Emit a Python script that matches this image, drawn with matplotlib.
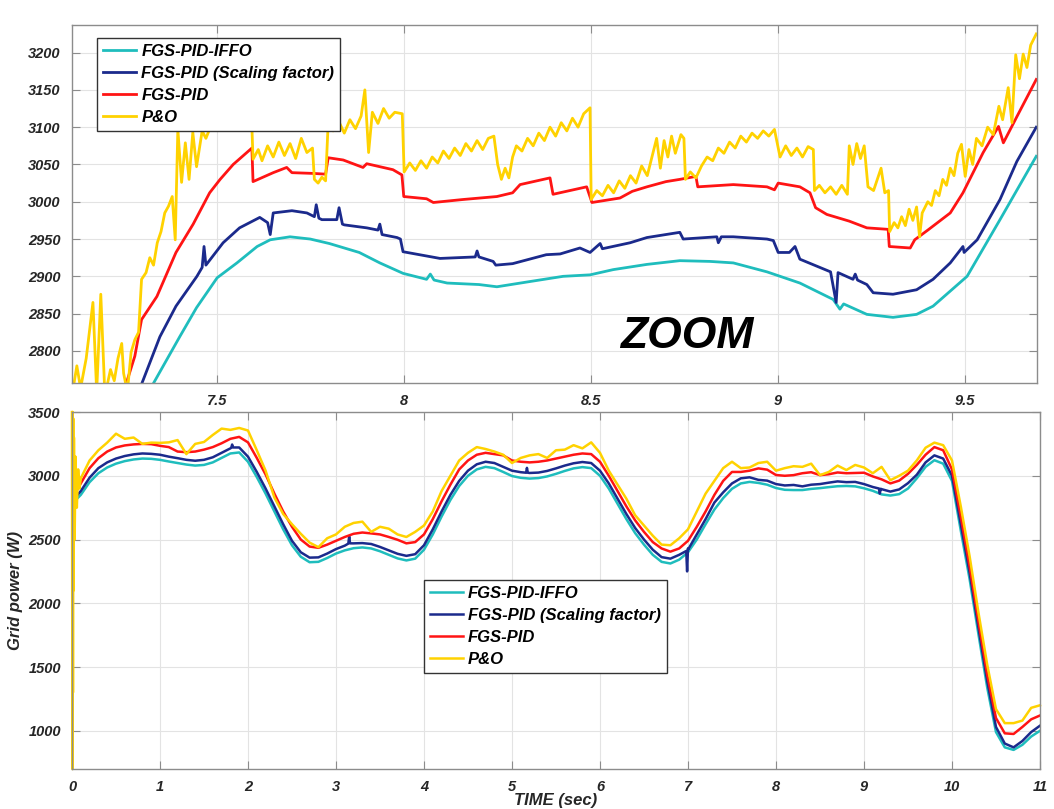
import matplotlib
matplotlib.use('Agg')
import matplotlib.pyplot as plt
import numpy as np

plt.rcParams['font.family'] = ['Liberation Sans', 'DejaVu Sans']
plt.rcParams['font.weight'] = 'bold'
plt.rcParams['font.style'] = 'italic'
plt.rcParams['axes.labelweight'] = 'bold'

labels = ['FGS-PID-IFFO', 'FGS-PID (Scaling factor)', 'FGS-PID', 'P&O']
colors = ['#1fbdbd', '#1b2a8c', '#ff1414', '#ffd200']

#---------------------------------------------------------full run, 0..11 s, every 0.1 s
t_full = np.round(np.arange(111) * 0.1, 1)

iffo = [2780, 2850, 2950, 3020, 3065, 3095, 3115, 3128, 3135, 3133,
        3125, 3112, 3100, 3088, 3080, 3085, 3105, 3140, 3175, 3183,
        3110, 2990, 2860, 2720, 2580, 2455, 2365, 2322, 2325, 2355,
        2390, 2415, 2432, 2438, 2430, 2408, 2380, 2352, 2336, 2350,
        2420, 2540, 2680, 2810, 2920, 3000, 3050, 3070, 3060, 3030,
        2998, 2984, 2978, 2982, 2995, 3015, 3038, 3058, 3068, 3060,
        3000, 2900, 2780, 2660, 2550, 2460, 2380, 2325, 2312, 2342,
        2400, 2500, 2620, 2735, 2825, 2898, 2940, 2952, 2944, 2930,
        2904, 2890, 2888, 2888, 2897, 2903, 2911, 2918, 2920, 2917,
        2902, 2882, 2854, 2845, 2856, 2900, 2980, 3070, 3122, 3095,
        2960, 2570, 2190, 1760, 1340, 990, 870, 850, 890, 955, 1000]

scaling = [2800, 2880, 2985, 3060, 3105, 3135, 3155, 3168, 3175, 3172,
           3165, 3150, 3138, 3125, 3118, 3125, 3145, 3180, 3215, 3222,
           3150, 3030, 2900, 2760, 2620, 2490, 2400, 2358, 2360, 2390,
           2425, 2452, 2470, 2472, 2465, 2442, 2415, 2388, 2372, 2385,
           2455, 2580, 2720, 2850, 2960, 3040, 3090, 3110, 3100, 3070,
           3040, 3028, 3022, 3025, 3038, 3058, 3080, 3098, 3108, 3100,
           3040, 2940, 2820, 2700, 2590, 2500, 2420, 2362, 2350, 2380,
           2430, 2540, 2660, 2790, 2870, 2940, 2980, 2988, 2968, 2962,
           2935, 2924, 2928, 2917, 2930, 2935, 2946, 2956, 2950, 2952,
           2935, 2912, 2895, 2876, 2893, 2942, 3008, 3105, 3160, 3135,
           3000, 2620, 2240, 1810, 1390, 1030, 900, 870, 920, 990, 1040]
# short spikes of the scaling-factor controller
t_scaling_spk = [1.81, 1.82, 1.83, 3.14, 3.15, 3.16, 5.16, 5.17, 5.18, 6.98, 6.99, 7.0, 9.17, 9.18, 9.19]
scaling_spk = [3220, 3245, 3222, 2468, 2525, 2470, 3024, 3062, 3024, 2410, 2250, 2420, 2900, 2860, 2898]

pid = [2820, 2940, 3060, 3138, 3190, 3222, 3238, 3246, 3250, 3248,
       3235, 3225, 3190, 3185, 3190, 3205, 3225, 3255, 3290, 3305,
       3262, 3140, 3010, 2860, 2720, 2600, 2500, 2445, 2435, 2460,
       2490, 2520, 2545, 2555, 2548, 2540, 2520, 2498, 2470, 2480,
       2540, 2660, 2800, 2930, 3050, 3120, 3165, 3180, 3170, 3160,
       3120, 3110, 3105, 3110, 3120, 3135, 3150, 3165, 3175, 3170,
       3110, 3000, 2880, 2760, 2650, 2560, 2480, 2430, 2405, 2430,
       2490, 2600, 2720, 2850, 2960, 3030, 3030, 3040, 3058, 3048,
       3006, 3000, 3005, 3020, 3028, 3005, 3012, 3026, 3020, 3022,
       3024, 2995, 2972, 2940, 2962, 3015, 3085, 3165, 3225, 3200,
       3050, 2680, 2290, 1860, 1440, 1100, 980, 975, 1030, 1090, 1120]

t_pno_start = [0.0, 0.005, 0.008, 0.011, 0.014, 0.018, 0.022, 0.03, 0.04, 0.055, 0.07, 0.085]
pno_start = [3500, 700, 3500, 1300, 3450, 2100, 3300, 2500, 3150, 2750, 3050, 2900]
pno = [2980, 3120, 3200, 3260, 3330, 3290, 3300, 3250, 3260,
       3258, 3262, 3280, 3170, 3250, 3265, 3320, 3370, 3360, 3375,
       3355, 3200, 3040, 2830, 2700, 2620, 2545, 2476, 2440, 2510,
       2540, 2600, 2630, 2640, 2560, 2600, 2585, 2540, 2520, 2560,
       2610, 2720, 2880, 3000, 3120, 3180, 3225, 3210, 3190, 3165,
       3100, 3140, 3160, 3170, 3140, 3200, 3205, 3240, 3215, 3262,
       3180, 3040, 2930, 2820, 2690, 2610, 2530, 2460, 2455, 2510,
       2580, 2720, 2860, 2960, 3060, 3110, 3060, 3065, 3100, 3110,
       3040, 3060, 3075, 3070, 3095, 3005, 3030, 3080, 3045, 3085,
       3065, 3020, 3070, 2965, 3000, 3040, 3120, 3220, 3260, 3240,
       3120, 2760, 2370, 1930, 1520, 1170, 1060, 1060, 1080, 1180, 1200]

#---------------------------------------------------------zoomed window 7.11..9.69 s
t_iffo_z = [7.30, 7.355, 7.40, 7.445, 7.50, 7.553, 7.607, 7.642, 7.695, 7.749, 7.80, 7.88,
            7.935, 7.997, 8.06, 8.07, 8.08, 8.115, 8.20, 8.248, 8.336, 8.425, 8.497, 8.559,
            8.649, 8.737, 8.818, 8.88, 8.97, 9.058, 9.147, 9.165, 9.175, 9.237, 9.307,
            9.37, 9.414, 9.505, 9.593, 9.69]
iffo_z = [2730, 2779, 2819, 2858, 2898, 2918, 2940, 2949, 2953, 2950, 2944, 2932,
          2918, 2904, 2896, 2903, 2895, 2891, 2889, 2886, 2893, 2900, 2902, 2909,
          2916, 2921, 2920, 2918, 2906, 2891, 2869, 2856, 2863, 2849, 2845,
          2849, 2860, 2900, 2976, 3061]

t_scaling_z = [7.29, 7.347, 7.39, 7.446, 7.46, 7.465, 7.47, 7.516, 7.56, 7.614, 7.635, 7.642,
               7.65, 7.70, 7.74, 7.76, 7.765, 7.772, 7.78, 7.82, 7.826, 7.835, 7.84, 7.90, 7.93,
               7.935, 7.941, 7.981, 7.99, 7.997, 8.096, 8.19, 8.195, 8.20, 8.238, 8.245,
               8.29, 8.38, 8.417, 8.47, 8.497, 8.524, 8.53, 8.604, 8.649, 8.737, 8.746,
               8.836, 8.84, 8.848, 8.88, 8.97, 8.987, 9.0, 9.03, 9.045, 9.058, 9.14, 9.155,
               9.16, 9.20, 9.206, 9.212, 9.237, 9.254, 9.307, 9.37, 9.414, 9.46, 9.494,
               9.497, 9.532, 9.593, 9.638, 9.69]
scaling_z = [2745, 2819, 2860, 2900, 2912, 2940, 2915, 2945, 2965, 2979, 2972, 2956,
             2985, 2988, 2985, 2980, 2996, 2978, 2976, 2976, 2992, 2970, 2969, 2965, 2962,
             2970, 2956, 2952, 2950, 2933, 2924, 2926, 2934, 2926, 2920, 2915,
             2917, 2929, 2930, 2938, 2932, 2944, 2937, 2945, 2952, 2959, 2950,
             2953, 2945, 2953, 2953, 2950, 2948, 2932, 2932, 2940, 2923, 2906, 2865,
             2905, 2896, 2903, 2895, 2889, 2878, 2876, 2882, 2896, 2918, 2940,
             2932, 2949, 3003, 3054, 3100]

t_pid_z = [7.25, 7.28, 7.298, 7.339, 7.39, 7.436, 7.48, 7.508, 7.543, 7.593, 7.596, 7.65,
           7.686, 7.70, 7.757, 7.79, 7.797, 7.837, 7.89, 7.90, 7.97, 7.994, 7.999, 8.06,
           8.078, 8.157, 8.248, 8.29, 8.31, 8.39, 8.398, 8.488, 8.502, 8.577, 8.61, 8.649,
           8.70, 8.737, 8.78, 8.785, 8.88, 8.97, 8.99, 9.0, 9.058, 9.085, 9.10, 9.13,
           9.19, 9.237, 9.294, 9.297, 9.353, 9.365, 9.40, 9.46, 9.494, 9.548, 9.589,
           9.602, 9.638, 9.69]
pid_z = [2745, 2793, 2842, 2873, 2932, 2970, 3012, 3030, 3050, 3072, 3027, 3039,
         3046, 3039, 3038, 3037, 3059, 3056, 3046, 3051, 3043, 3036, 3007, 3004,
         2999, 3003, 3007, 3012, 3023, 3032, 3010, 3020, 2999, 3005, 3014, 3020,
         3027, 3030, 3034, 3020, 3023, 3020, 3016, 3025, 3020, 3012, 2992, 2983,
         2974, 2965, 2963, 2940, 2938, 2949, 2962, 2985, 3012, 3066, 3101,
         3079, 3114, 3164]

t_pno_z = [7.112, 7.125, 7.135, 7.15, 7.168, 7.178, 7.189, 7.20, 7.215, 7.225, 7.235, 7.245,
           7.25, 7.26, 7.27, 7.28, 7.29, 7.298, 7.31, 7.32, 7.33, 7.34, 7.35, 7.36, 7.37,
           7.38, 7.388, 7.395, 7.405, 7.415, 7.425, 7.435, 7.445, 7.46, 7.47, 7.49, 7.51,
           7.53, 7.55, 7.57, 7.593, 7.596, 7.61, 7.62, 7.635, 7.65, 7.665, 7.68, 7.695,
           7.71, 7.725, 7.74, 7.755, 7.76, 7.77, 7.78, 7.79, 7.797, 7.81, 7.825, 7.84,
           7.855, 7.87, 7.885, 7.895, 7.905, 7.915, 7.93, 7.945, 7.96, 7.975, 7.995, 8.0,
           8.015, 8.03, 8.045, 8.06, 8.075, 8.09, 8.105, 8.12, 8.135, 8.15, 8.165, 8.18,
           8.195, 8.21, 8.225, 8.24, 8.25, 8.26, 8.27, 8.28, 8.29, 8.30, 8.315, 8.33,
           8.345, 8.36, 8.375, 8.39, 8.405, 8.42, 8.435, 8.45, 8.465, 8.48, 8.497, 8.50,
           8.515, 8.53, 8.545, 8.56, 8.575, 8.59, 8.605, 8.62, 8.635, 8.65, 8.665, 8.675,
           8.685, 8.695, 8.705, 8.715, 8.725, 8.74, 8.748, 8.752, 8.765, 8.78, 8.795,
           8.81, 8.825, 8.84, 8.855, 8.87, 8.885, 8.90, 8.915, 8.93, 8.945, 8.96, 8.975,
           8.99, 8.997, 9.005, 9.02, 9.035, 9.05, 9.065, 9.08, 9.094, 9.097, 9.11, 9.125,
           9.14, 9.155, 9.17, 9.185, 9.19, 9.20, 9.21, 9.22, 9.23, 9.24, 9.255, 9.265,
           9.275, 9.285, 9.295, 9.298, 9.31, 9.32, 9.33, 9.34, 9.35, 9.36, 9.37, 9.378,
           9.385, 9.40, 9.41, 9.42, 9.43, 9.44, 9.45, 9.46, 9.47, 9.48, 9.49, 9.50, 9.51,
           9.52, 9.53, 9.545, 9.56, 9.575, 9.59, 9.60, 9.615, 9.625, 9.635, 9.645, 9.655,
           9.665, 9.675, 9.69]
pno_z = [2740, 2780, 2750, 2790, 2865, 2745, 2876, 2740, 2775, 2760, 2790, 2810,
         2770, 2745, 2798, 2815, 2825, 2896, 2905, 2925, 2915, 2945, 2960, 2985, 2994,
         3007, 2949, 3097, 3026, 3079, 3030, 3093, 3047, 3095, 3085, 3110, 3100,
         3120, 3115, 3130, 3100, 3057, 3070, 3055, 3075, 3060, 3080, 3062, 3078,
         3058, 3085, 3066, 3072, 3030, 3025, 3033, 3028, 3106, 3095, 3108, 3092,
         3110, 3098, 3115, 3150, 3066, 3120, 3105, 3125, 3112, 3120, 3118, 3040,
         3052, 3042, 3055, 3045, 3060, 3052, 3068, 3058, 3072, 3062, 3078, 3068,
         3082, 3070, 3085, 3088, 3050, 3030, 3045, 3032, 3060, 3075, 3068, 3085,
         3075, 3092, 3082, 3100, 3088, 3106, 3095, 3112, 3100, 3118, 3126, 3003,
         3015, 3008, 3022, 3012, 3028, 3018, 3035, 3025, 3048, 3035, 3065, 3085,
         3045, 3082, 3060, 3088, 3065, 3090, 3085, 3030, 3040, 3032, 3048,
         3060, 3055, 3072, 3065, 3080, 3072, 3088, 3080, 3092, 3085, 3095, 3088,
         3097, 3080, 3060, 3075, 3062, 3072, 3060, 3074, 3070, 3015, 3022, 3012,
         3020, 3010, 3022, 3010, 3075, 3050, 3078, 3058, 3075, 3020, 3015, 3030,
         3045, 3012, 3015, 2960, 2972, 2965, 2980, 2968, 2990, 2975, 2993, 2953,
         2985, 3000, 2995, 3015, 3008, 3030, 3022, 3045, 3035, 3065, 3077, 3034, 3070,
         3050, 3085, 3075, 3100, 3090, 3128, 3110, 3153, 3106, 3197, 3165, 3198,
         3180, 3210, 3225]


def merged(t, v, te, ve):
    tt = np.concatenate([t, te])
    vv = np.concatenate([v, ve])
    o = np.argsort(tt, kind='stable')
    return tt[o], vv[o]


tick_color = '#262626'
frame_color = '#8c8c8c'


def style(ax):
    ax.grid(True, color='#e3e3e3', linewidth=0.8)
    ax.set_axisbelow(True)
    ax.tick_params(direction='in', top=True, right=True, length=6, width=0.8,
                   colors=frame_color, labelcolor=tick_color, labelsize=10.5, pad=8)
    for s in ax.spines.values():
        s.set_color(frame_color)
        s.set_linewidth(1.0)


def legend(ax, anchor):
    leg = ax.legend(loc='upper left', bbox_to_anchor=anchor, borderaxespad=0,
                    fontsize=12, frameon=True, fancybox=False, framealpha=1,
                    edgecolor='#333333', handlelength=2.0, labelspacing=0.42,
                    borderpad=0.35, handletextpad=0.3)
    leg.get_frame().set_linewidth(1.0)
    return leg


fig = plt.figure(figsize=(10.54, 8.09), dpi=100)

#=========================================================================top: zoom
ax1 = fig.add_axes([0.0683, 0.5266, 0.9156, 0.4425])
lw = 2.0
ax1.plot(t_iffo_z, iffo_z, color=colors[0], lw=lw, label=labels[0])
ax1.plot(t_scaling_z, scaling_z, color=colors[1], lw=lw, label=labels[1])
ax1.plot(t_pid_z, pid_z, color=colors[2], lw=lw, label=labels[2])
ax1.plot(t_pno_z, pno_z, color=colors[3], lw=lw, label=labels[3])
ax1.set_xlim(7.112, 9.692)
ax1.set_ylim(2757, 3237)
ax1.set_xticks([7.5, 8, 8.5, 9, 9.5])
ax1.set_xticklabels(['7.5', '8', '8.5', '9', '9.5'])
ax1.set_yticks(np.arange(2800, 3201, 50))
style(ax1)
ax1.text(0.637, 0.13, 'ZOOM', transform=ax1.transAxes, fontsize=32,
         fontweight='bold', fontstyle='italic', color='black', ha='center', va='center')
legend(ax1, (0.026, 0.964))

#=====================================================================bottom: full
ax2 = fig.add_axes([0.0683, 0.0494, 0.9184, 0.4413])
ts, vs = merged(t_full, scaling, t_scaling_spk, scaling_spk)
tp = np.concatenate([t_pno_start, t_full[1:]])
vp = np.concatenate([pno_start, pno])
lw2 = 1.8
ax2.plot(t_full, iffo, color=colors[0], lw=lw2, label=labels[0])
ax2.plot(ts, vs, color=colors[1], lw=lw2, label=labels[1])
ax2.plot(t_full, pid, color=colors[2], lw=lw2, label=labels[2])
ax2.plot(tp, vp, color=colors[3], lw=lw2, label=labels[3], clip_on=False)
ax2.set_xlim(0, 11)
ax2.set_ylim(700, 3500)
ax2.set_xticks(np.arange(0, 12, 1))
ax2.set_yticks([1000, 1500, 2000, 2500, 3000, 3500])
style(ax2)
ax2.set_xlabel('TIME (sec)', fontsize=12, fontweight='bold', color=tick_color, labelpad=-1)
ax2.set_ylabel('Grid power (W)', fontsize=12, fontweight='bold', color=tick_color, labelpad=4)
legend(ax2, (0.3636, 0.529))

fig.savefig('out.png', dpi=100)
